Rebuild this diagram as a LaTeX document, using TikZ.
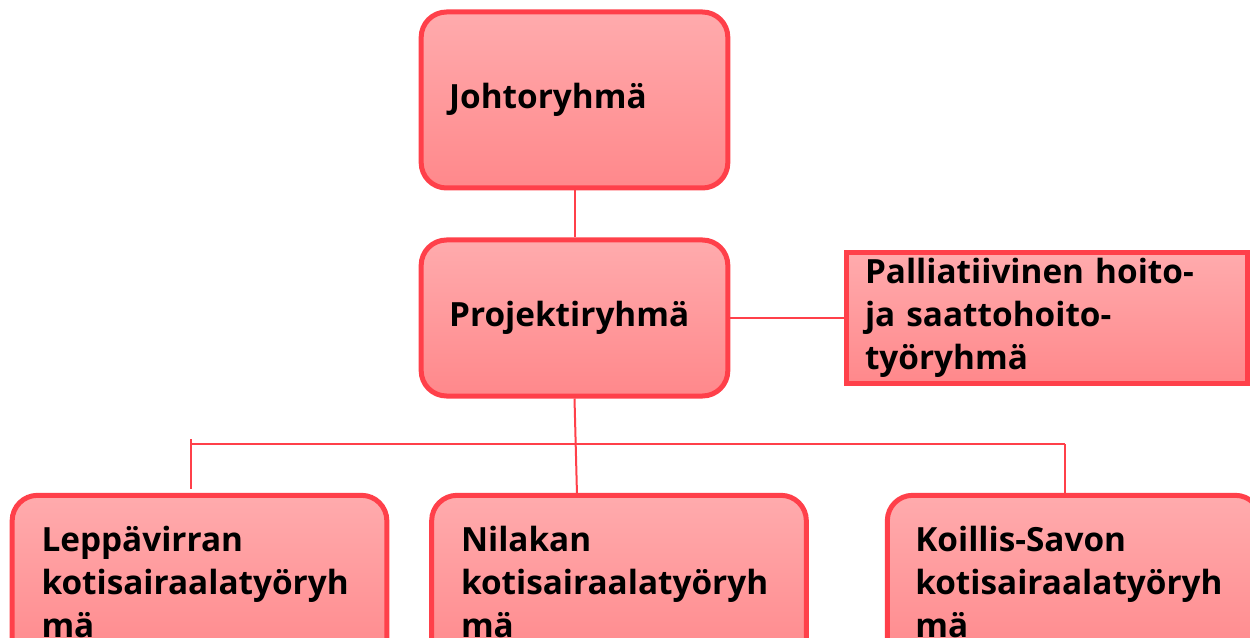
\documentclass[tikz,border=0pt]{standalone}
\usepackage{fontspec}
\setmainfont{Open Sans}
\definecolor{boxline}{RGB}{255,64,74}
\definecolor{boxtop}{RGB}{255,171,173}
\definecolor{boxbot}{RGB}{255,136,139}
\tikzset{
  every picture/.style={line width=0.75pt},
  grpbox/.style={draw=boxline, line width=3.75pt, rounded corners=19pt,
    top color=boxtop, bottom color=boxbot, align=left, inner ysep=0pt,
    font=\fontsize{25}{32.5}\selectfont\bfseries},
  grpsquare/.style={grpbox, rounded corners=0pt},
  conn/.style={draw=boxline, line width=1.5pt}
}
\begin{document}
\begin{tikzpicture}[x=0.75pt,y=0.75pt,yscale=-1,xscale=1]
    \useasboundingbox (0,0) rectangle (1250,638);
    \clip (0,0) rectangle (1250,638);

    % top levels
    \node [grpbox, inner xsep=21pt, text width=188pt, minimum height=132pt] (johto) at (574.5,100) {Johtoryhmä};
    \node [grpbox, inner xsep=21pt, text width=188pt, minimum height=117pt] (projekti) at (574.5,318) {Projektiryhmä};
    \node [grpsquare, inner xsep=14pt, text width=273pt, minimum height=98pt] (pallia) at (1047,318) {Palliatiivinen hoito-\\ja saattohoito-\\työryhmä};

    % working groups
    \node [grpbox, inner xsep=22pt, text width=237pt, minimum height=130pt] (lepp) at (199.5,582) {Leppävirran\\kotisairaalatyöryh\\mä};
    \node [grpbox, inner xsep=22pt, text width=237pt, minimum height=130pt] (nilakan) at (619,582) {Nilakan\\kotisairaalatyöryh\\mä};
    \node [grpbox, inner xsep=21pt, text width=238pt, minimum height=130pt] (koillis) at (1074,582) {Koillis-Savon\\kotisairaalatyöryh\\mä};

    % connectors
    \coordinate (busL) at (190,444);
    \coordinate (busR) at (1065,444);
    \coordinate (nilTop) at (577,495);
    \draw [conn] (johto) -- (projekti);
    \draw [conn] (projekti.east) -- (projekti.east -| pallia.west);
    \draw [conn] (projekti.south) -- (nilTop);
    \draw [conn] (busL) -- (busR);
    \draw [conn] ([xshift=0.75pt,yshift=-3pt]busL |- lepp.north) -- ([xshift=0.75pt,yshift=-3.5pt]busL);
    \draw [conn] (busR) -- (busR |- koillis.north);
\end{tikzpicture}
\end{document}
